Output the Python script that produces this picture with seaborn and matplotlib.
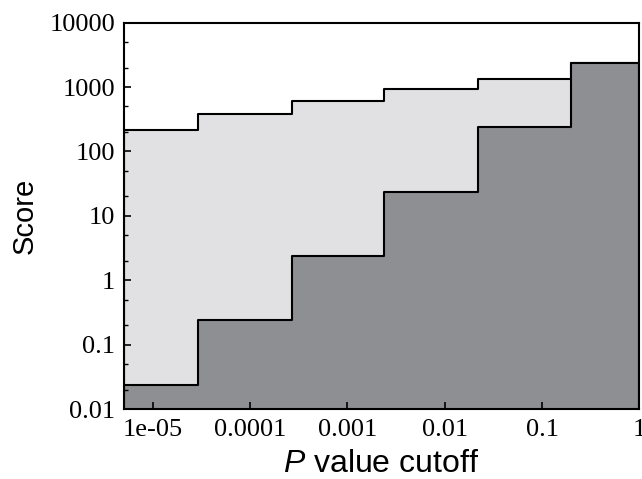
import numpy as np
import pandas as pd
import matplotlib
matplotlib.use("Agg")
import matplotlib.pyplot as plt
import matplotlib.ticker as mticker
import seaborn as sns

# Data
bin_edges = [5e-6, 2.9e-5, 2.7e-4, 2.4e-3, 2.2e-2, 2.0e-1, 1.0]
upper_score = [217, 375, 596, 915, 1340, 2370]
lower_score = [0.0237, 0.237, 2.37, 23.7, 237, 2370]
x_ticks = [1e-5, 1e-4, 1e-3, 1e-2, 1e-1, 1]
x_tick_labels = ["1e-05", "0.0001", "0.001", "0.01", "0.1", "1"]
y_ticks = [0.01, 0.1, 1, 10, 100, 1000, 10000]
y_tick_labels = ["0.01", "0.1", "1", "10", "100", "1000", "10000"]

edges = np.array(bin_edges)
centers = np.sqrt(edges[:-1] * edges[1:])
df = pd.DataFrame({"cutoff": centers, "upper": upper_score, "lower": lower_score})

sns.set_style("ticks")
plt.rcParams["font.family"] = ["Liberation Serif", "DejaVu Serif"]
plt.rcParams["mathtext.fontset"] = "custom"
plt.rcParams["mathtext.it"] = "Liberation Sans:italic"
plt.rcParams["mathtext.rm"] = "Liberation Sans"
plt.rcParams["text.color"] = "black"
plt.rcParams["axes.labelcolor"] = "black"

fig = plt.figure(figsize=(6.42, 4.79), dpi=100)
ax = fig.add_axes([0.1924, 0.1461, 0.8036, 0.8067])

sns.histplot(data=df, x="cutoff", weights="upper", bins=list(bin_edges), element="step",
             fill=True, color="#e1e1e3", edgecolor="black", linewidth=1.5,
             alpha=1, ax=ax)
sns.histplot(data=df, x="cutoff", weights="lower", bins=list(bin_edges), element="step",
             fill=True, color="#8e8f93", edgecolor="black", linewidth=1.5,
             alpha=1, ax=ax)

ax.set_axisbelow(False)
ax.set_xscale("log")
ax.set_yscale("log")
ax.set_xlim(bin_edges[0], bin_edges[-1])
ax.set_ylim(y_ticks[0], y_ticks[-1])

ax.xaxis.set_major_locator(mticker.FixedLocator(x_ticks))
ax.xaxis.set_major_formatter(mticker.FixedFormatter(x_tick_labels))
ax.xaxis.set_minor_locator(mticker.NullLocator())
ax.yaxis.set_major_locator(mticker.FixedLocator(y_ticks))
ax.yaxis.set_major_formatter(mticker.FixedFormatter(y_tick_labels))
ax.yaxis.set_minor_locator(mticker.LogLocator(base=10, subs=(2.0, 5.0), numticks=100))
ax.yaxis.set_minor_formatter(mticker.NullFormatter())

ax.tick_params(axis="both", which="major", direction="in", length=5, width=1.2,
               labelsize=19, colors="black")
ax.tick_params(axis="x", which="major", pad=7)
ax.tick_params(axis="y", which="major", pad=6)
ax.tick_params(axis="y", which="minor", direction="in", length=3, width=1.0,
               colors="black")

for s in ax.spines.values():
    s.set_visible(True)
    s.set_linewidth(1.5)
    s.set_color("black")

ax.set_xlabel("$\\it{P}$ value cutoff", fontsize=23, family="Liberation Sans",
              labelpad=6, color="black")
ax.set_ylabel("Score", fontsize=21, family="Liberation Sans", labelpad=8,
              color="black")

fig.savefig("out.png", dpi=100)
